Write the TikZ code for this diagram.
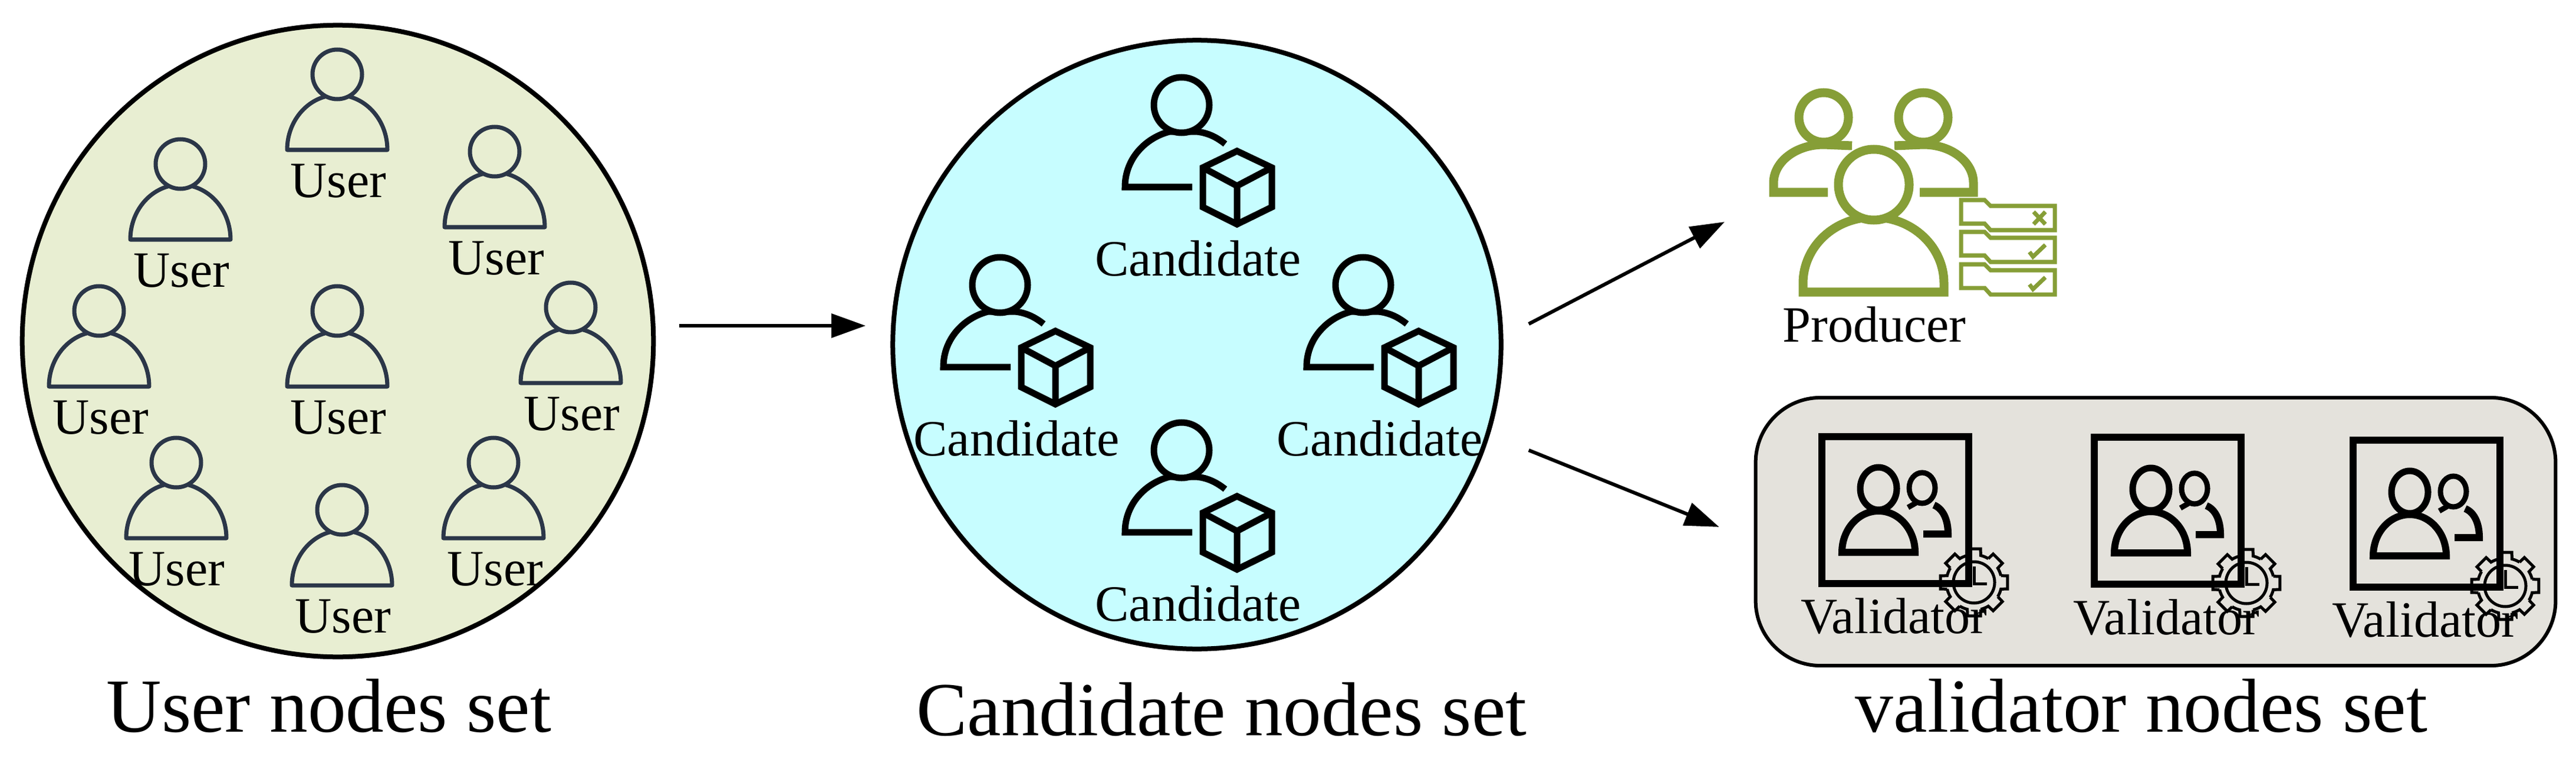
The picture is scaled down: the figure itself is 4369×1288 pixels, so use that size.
\documentclass[tikz,border=0pt]{standalone}
\usepackage{fontspec}
\setmainfont{Liberation Serif}
\usetikzlibrary{arrows.meta}
\definecolor{usercol}{HTML}{E8EED2}
\definecolor{candcol}{HTML}{C7FDFF}
\definecolor{valcol}{HTML}{E4E2DC}
\definecolor{slatecol}{HTML}{2B3648}
\definecolor{prodcol}{HTML}{869E37}
\tikzset{
  every pic/.style={yscale=-1},
  lbl/.style={inner sep=0pt,anchor=base,font=\fontsize{24.5}{28}\selectfont},
  setname/.style={inner sep=0pt,anchor=base,font=\fontsize{36.8}{42}\selectfont},
  setcircle/.style={circle,draw=black,line width=0.08cm,inner sep=0pt,outer sep=0pt,minimum size=10.4cm},
  flow/.style={-{Triangle[length=0.58cm,width=0.4cm]},line width=0.06cm},
  pics/usericon/.style={code={
    \draw[slatecol,line width=0.07cm,line join=round] (85,128) arc[start angle=0,end angle=-180,x radius=85,y radius=93] -- cycle;
    \draw[slatecol,line width=0.07cm,fill=usercol] (0,0) circle (42);
  }},
  pics/candicon/.style={code={
    \draw[line width=0.11cm] (18,139) -- (-96,139) .. controls (-96,90) and (-60,55) .. (-20,45) -- (25,45) .. controls (45,47) and (60,55) .. (74,66);
    \draw[line width=0.11cm,fill=candcol] (0,0) circle (47);
    \draw[line width=0.11cm,line join=miter] (94,78) -- (153,106) -- (153,173) -- (94,202) -- (36,173) -- (36,106) -- cycle;
    \draw[line width=0.11cm,line join=miter] (36,106) -- (94,137) -- (153,106) (94,137) -- (94,202);
  }},
  pics/tabbox/.style={code={
    \draw[prodcol,line width=0.07cm] (3326,339) -- (3366,339) -- (3376,349) -- (3485,349) -- (3485,390) -- (3376,390) -- (3366,379) -- (3326,379) -- cycle;
  }},
  pics/valicon/.style={code={
    \draw[line width=0.12cm] (0,0) rectangle (249,249);
    \draw[line width=0.12cm] (34,196) -- (158,196) arc[start angle=0,end angle=-180,x radius=62,y radius=70] -- cycle;
    \draw[line width=0.11cm,fill=valcol] (96,88) ellipse [x radius=31,y radius=36];
    \draw[line width=0.12cm] (172,165) -- (214,165) .. controls (214,140) and (205,122) .. (190,116);
    \draw[line width=0.09cm] (146,120) -- (160,112);
    \draw[line width=0.09cm,fill=valcol] (170,87) ellipse [x radius=22,y radius=26];
    \begin{scope}[shift={(258,247)}]
    \foreach \a in {0,45,...,315} {
      \draw[line width=0.05cm,line join=miter] (\a-14:47) -- (\a-11:58) -- (\a+11:58) -- (\a+14:47) arc[start angle=\a+14,end angle=\a+31,radius=47];
    }
    \draw[line width=0.05cm] (0,0) circle (35);
    \draw[line width=0.05cm] (0,-27) -- (0,2) -- (22,2);
    \end{scope}
  }}
}
\begin{document}
\begin{tikzpicture}[x=0.01cm,y=0.01cm,yscale=-1]
\useasboundingbox (0,0) rectangle (4369,1288);
\draw (573,578) node[setcircle,fill=usercol,minimum size=10.7cm] (userset) {};
\draw (2030,584) node[setcircle,fill=candcol,minimum size=10.31cm] (candset) {};
\draw (3656,901) node[rectangle,draw=black,fill=valcol,line width=0.06cm,rounded corners=1.1cm,minimum width=13.56cm,minimum height=4.54cm,inner sep=0pt,outer sep=0pt] (valset) {};
\pic at (572,126) {usericon};
\pic at (306,278) {usericon};
\pic at (839,257) {usericon};
\pic at (168,527) {usericon};
\pic at (572,527) {usericon};
\pic at (968,521) {usericon};
\pic at (299,784) {usericon};
\pic at (580,864) {usericon};
\pic at (837,784) {usericon};
\draw (574,334) node[lbl] (usera) {User};
\draw (308,486) node[lbl] (userb) {User};
\draw (842,465) node[lbl] (userc) {User};
\draw (171,735) node[lbl] (userd) {User};
\draw (574,735) node[lbl] (usere) {User};
\draw (970,729) node[lbl] (userf) {User};
\draw (300,992) node[lbl] (userg) {User};
\draw (582,1072) node[lbl] (userh) {User};
\draw (840,992) node[lbl] (useri) {User};
\pic at (2004,178) {candicon};
\pic at (1696,483) {candicon};
\pic at (2312,483) {candicon};
\pic at (2004,763) {candicon};
\draw (2032,467) node[lbl] (canda) {Candidate};
\draw (1724,772) node[lbl] (candb) {Candidate};
\draw (2340,772) node[lbl] (candc) {Candidate};
\draw (2032,1052) node[lbl] (candd) {Candidate};
\draw[prodcol,line width=0.15cm] (3100,326) -- (3008,326) -- (3008,310) arc[start angle=180,end angle=270,x radius=85,y radius=65] -- (3141,247);
\draw[prodcol,line width=0.15cm,fill=white] (3093,199) circle (42);
\draw[prodcol,line width=0.15cm] (3256,326) -- (3347,326) -- (3347,310) arc[start angle=0,end angle=-90,x radius=85,y radius=65] -- (3213,247);
\draw[prodcol,line width=0.15cm,fill=white] (3262,199) circle (42);
\draw[prodcol,line width=0.15cm,fill=white] (3297,495) -- (3058,495) -- (3058,480) arc[start angle=180,end angle=360,x radius=119.5,y radius=112] -- cycle;
\draw[prodcol,line width=0.15cm,fill=white] (3178,313) circle (60);
\pic at (0,0) {tabbox};
\pic at (0,54) {tabbox};
\pic at (0,109) {tabbox};
\draw[prodcol,line width=0.07cm] (3449,359) -- (3469,380) (3469,359) -- (3449,380);
\draw[prodcol,line width=0.07cm] (3442,427) -- (3448,435) -- (3469,415);
\draw[prodcol,line width=0.07cm] (3442,482) -- (3448,490) -- (3469,470);
\draw (3179,579) node[lbl] (prod) {Producer};
\pic at (3090,740) {valicon};
\pic at (3552,741) {valicon};
\pic at (3991,746) {valicon};
\draw (3212,1073) node[lbl] (vala) {Validator};
\draw (3674,1075) node[lbl] (valb) {Validator};
\draw (4113,1079) node[lbl] (valc) {Validator};
\draw (558,1240) node[setname] (usertitle) {User nodes set};
\draw (2072,1246) node[setname] (candtitle) {Candidate nodes set};
\draw (3632,1240) node[setname] (valtitle) {validator nodes set};
\coordinate (prodin) at (2925,376);
\draw[flow] ([shift={(44,-26)}]userset.east) -- ([shift={(-46,-32)}]candset.west);
\draw[flow] ([shift={(47,-35)}]candset.east) -- (prodin);
\draw[flow] ([shift={(47,179)}]candset.east) -- ([shift={(-62,-8)}]valset.west);
\end{tikzpicture}
\end{document}
